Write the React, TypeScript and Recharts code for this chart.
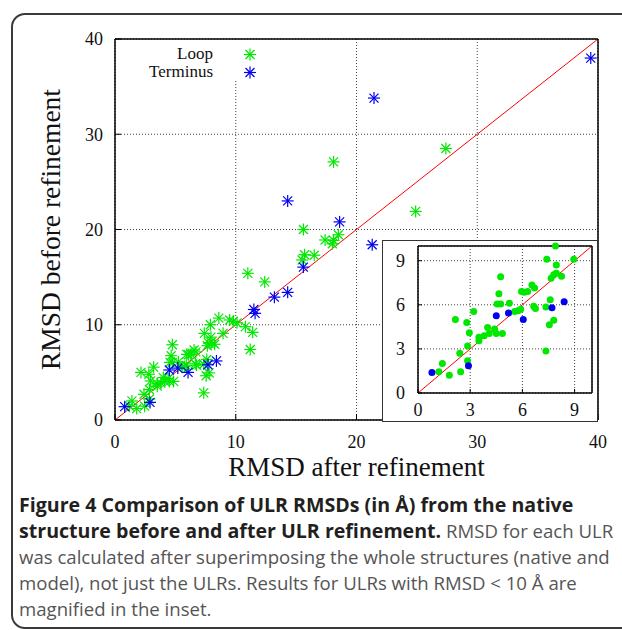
import React from 'react';
import { ScatterChart, Scatter, XAxis, YAxis, CartesianGrid, ReferenceLine, Legend } from 'recharts';

// RMSD after refinement (x) / before refinement (y), in Å
const loopAfter = [
  1.2, 1.4, 1.8, 2.45, 2.4, 2.85, 2.85, 2.15, 2.8, 2.95, 3.2, 3.5, 3.5, 3.8, 4.0, 4.1, 4.4, 4.5, 4.85,
  4.55, 4.75, 4.65, 4.75, 5.25, 5.55, 5.75, 5.9, 5.95, 6.1, 6.3, 6.55, 6.7, 6.65, 6.75, 7.35, 7.35,
  7.4, 7.6, 7.55, 7.8, 7.65, 7.8, 7.95, 7.95, 7.9, 8.25, 8.95,
  8.6, 9.5, 9.8, 10.1, 10.8, 11.4, 11.2, 11.0, 12.4, 15.5, 15.7, 16.5, 15.6, 17.4, 18.0, 18.1, 18.5,
  18.1, 27.4, 24.9,
];
const loopBefore = [
  1.45, 2.0, 1.2, 1.45, 2.7, 2.2, 3.2, 5.0, 4.8, 4.1, 5.55, 3.8, 3.55, 3.9, 4.45, 4.05, 4.35, 4.05, 4.05,
  6.05, 6.05, 6.75, 7.9, 6.1, 5.55, 5.6, 5.7, 6.9, 6.85, 6.9, 7.35, 7.15, 5.9, 5.75, 5.85, 2.85,
  9.1, 6.35, 4.65, 4.95, 7.8, 8.05, 8.15, 8.7, 10.0, 7.95, 9.1,
  10.7, 10.5, 10.35, 10.2, 9.8, 9.2, 7.4, 15.4, 14.5, 16.8, 17.35, 17.3, 20.0, 18.9, 18.5, 18.85, 19.45,
  27.1, 28.5, 21.9,
];
const terminusAfter = [0.8, 2.9, 4.5, 5.2, 6.05, 7.7, 8.4, 11.5, 11.6, 13.2, 14.3, 15.6, 14.3, 18.6, 21.3, 21.45, 39.4];
const terminusBefore = [1.4, 1.85, 5.25, 5.45, 5.0, 5.8, 6.2, 11.6, 11.2, 12.9, 13.4, 16.05, 23.0, 20.8, 18.4, 33.8, 38.0];

const seriesNames = ['Loop', 'Terminus'];
const mainTicks = [0, 10, 20, 30, 40];
const insetTicks = [0, 3, 6, 9];
const insetLimit = 10;

const GREEN = '#00e800';
const BLUE = '#0000f0';
const SERIF = '"Liberation Serif", "Times New Roman", serif';

const toPoints = (xs: number[], ys: number[]) => xs.map((x, i) => ({ x, y: ys[i] }));
const loopPoints = toPoints(loopAfter, loopBefore);
const terminusPoints = toPoints(terminusAfter, terminusBefore);
const small = (p: { x: number; y: number }) => p.x <= insetLimit && p.y <= insetLimit;

const Asterisk = ({ cx, cy, color }: any) => {
  if (cx == null || cy == null) return null;
  return (
    <g stroke={color} strokeWidth={1.2}>
      <line x1={cx - 6} y1={cy} x2={cx + 6} y2={cy} />
      <line x1={cx} y1={cy - 6} x2={cx} y2={cy + 6} />
      <line x1={cx - 4.5} y1={cy - 4.5} x2={cx + 4.5} y2={cy + 4.5} />
      <line x1={cx - 4.5} y1={cy + 4.5} x2={cx + 4.5} y2={cy - 4.5} />
    </g>
  );
};

const Dot = ({ cx, cy, color }: any) => {
  if (cx == null || cy == null) return null;
  return <circle cx={cx} cy={cy} r={3.5} fill={color} />;
};

const renderLegend = (props: any) => {
  const items = props.payload ?? [];
  return (
    <div style={{ background: '#fff', width: 150, paddingTop: 4, fontFamily: SERIF, fontSize: 17, color: '#111' }}>
      {items.map((it: any, i: number) => (
        <div key={it.value} style={{ display: 'flex', alignItems: 'center', height: 18, lineHeight: '18px' }}>
          <span style={{ width: 93, textAlign: 'right' }}>{it.value}</span>
          <svg width={50} height={17} style={{ display: 'block' }}>
            <Asterisk cx={37} cy={8.5} color={i === 0 ? GREEN : BLUE} />
          </svg>
        </div>
      ))}
    </div>
  );
};

const tickFont = { fontFamily: SERIF, fontSize: 18, fill: '#111' };
const border = { stroke: '#000', strokeWidth: 1.5 };

const MainChart = () => (
  <ScatterChart width={622} height={490} margin={{ top: 38, right: 23, bottom: 0, left: 15 }}>
    <CartesianGrid strokeDasharray="1 2" stroke="#444" />
    <XAxis
      type="number" dataKey="x" domain={[0, 40]} ticks={mainTicks} height={70}
      axisLine={border} tickLine={{ stroke: '#000' }} tickSize={-6} tickMargin={21} tick={tickFont}
      label={{
        value: 'RMSD after refinement',
        content: () => (
          <text x={356.5} y={476} textAnchor="middle" fontFamily={SERIF} fontSize={27} fill="#111">
            RMSD after refinement
          </text>
        ),
      }}
    />
    <XAxis xAxisId="top" orientation="top" type="number" domain={[0, 40]} ticks={mainTicks} height={1}
      axisLine={border} tickLine={{ stroke: '#000' }} tickSize={-6} tick={() => <g />} />
    <YAxis
      type="number" dataKey="y" domain={[0, 40]} ticks={mainTicks} width={100}
      axisLine={border} tickLine={{ stroke: '#000' }} tickSize={-6} tickMargin={18} tick={tickFont}
      label={{
        value: 'RMSD before refinement',
        content: () => (
          <text x={60} y={229.5} textAnchor="middle" transform="rotate(-90 60 229.5)"
            fontFamily={SERIF} fontSize={27.5} fill="#111">
            RMSD before refinement
          </text>
        ),
      }}
    />
    <YAxis yAxisId="right" orientation="right" type="number" domain={[0, 40]} ticks={mainTicks} width={1}
      axisLine={border} tickLine={{ stroke: '#000' }} tickSize={-6} tick={() => <g />} />
    <ReferenceLine segment={[{ x: 0, y: 0 }, { x: 40, y: 40 }]} stroke="#ff0000" strokeWidth={1} />
    <Scatter name={seriesNames[0]} data={loopPoints} fill={GREEN} isAnimationActive={false}
      shape={(p: any) => <Asterisk cx={p.cx} cy={p.cy} color={GREEN} />} />
    <Scatter name={seriesNames[1]} data={terminusPoints} fill={BLUE} isAnimationActive={false}
      shape={(p: any) => <Asterisk cx={p.cx} cy={p.cy} color={BLUE} />} />
    <Legend layout="vertical" align="center" verticalAlign="middle" content={renderLegend}
      wrapperStyle={{ position: 'absolute', left: 120, top: 41, width: 150, height: 41 }} />
  </ScatterChart>
);

const InsetChart = () => (
  <ScatterChart width={213} height={179} margin={{ top: 4, right: 3, bottom: 0, left: 5 }}>
    <CartesianGrid strokeDasharray="1 2" stroke="#444" />
    <XAxis type="number" dataKey="x" domain={[0, insetLimit]} ticks={insetTicks} height={27}
      axisLine={border} tickLine={{ stroke: '#000' }} tickSize={-4} tickMargin={14} tick={tickFont} />
    <XAxis xAxisId="top" orientation="top" type="number" domain={[0, insetLimit]} ticks={insetTicks} height={1}
      axisLine={border} tickLine={{ stroke: '#000' }} tickSize={-4} tick={() => <g />} />
    <YAxis type="number" dataKey="y" domain={[0, insetLimit]} ticks={insetTicks} width={30}
      axisLine={border} tickLine={{ stroke: '#000' }} tickSize={-4} tickMargin={17} tick={tickFont} />
    <YAxis yAxisId="right" orientation="right" type="number" domain={[0, insetLimit]} ticks={insetTicks} width={1}
      axisLine={border} tickLine={{ stroke: '#000' }} tickSize={-4} tick={() => <g />} />
    <ReferenceLine segment={[{ x: 0, y: 0 }, { x: insetLimit, y: insetLimit }]} stroke="#ff0000" strokeWidth={1} />
    <Scatter name={seriesNames[0]} data={loopPoints.filter(small)} fill={GREEN} isAnimationActive={false}
      shape={(p: any) => <Dot cx={p.cx} cy={p.cy} color={GREEN} />} />
    <Scatter name={seriesNames[1]} data={terminusPoints.filter(small)} fill={BLUE} isAnimationActive={false}
      shape={(p: any) => <Dot cx={p.cx} cy={p.cy} color={BLUE} />} />
  </ScatterChart>
);

const captionLine = { height: 26, lineHeight: '26px', whiteSpace: 'nowrap' as const };
const boldStyle = { color: '#231f20', fontSize: 19.6, fontWeight: 700 };

export default function App() {
  return (
    <div style={{ position: 'absolute', left: 0, top: 0, width: 622, height: 630, overflow: 'hidden', background: '#fff' }}>
      <div style={{
        position: 'absolute', left: 11, top: 13, width: 650, height: 616, boxSizing: 'border-box',
        border: '2px solid #3a3a3a', borderRadius: 14,
      }} />
      <div style={{ position: 'absolute', left: 0, top: 0 }}>
        <MainChart />
      </div>
      <div style={{
        position: 'absolute', left: 382, top: 240, width: 216, height: 182, boxSizing: 'border-box',
        border: '1.5px solid #333', background: '#fff',
      }}>
        <InsetChart />
      </div>
      <div style={{
        position: 'absolute', left: 19, top: 492, fontFamily: '"Open Sans", sans-serif', fontSize: 18.6,
        color: '#555',
      }}>
        <div style={captionLine}>
          <span style={boldStyle}>Figure 4 Comparison of ULR RMSDs (in Å) from the native</span>
        </div>
        <div style={captionLine}>
          <span style={boldStyle}>structure before and after ULR refinement.</span> RMSD for each ULR
        </div>
        <div style={captionLine}>was calculated after superimposing the whole structures (native and</div>
        <div style={captionLine}>model), not just the ULRs. Results for ULRs with RMSD &lt; 10 Å are</div>
        <div style={captionLine}>magnified in the inset.</div>
      </div>
    </div>
  );
}
